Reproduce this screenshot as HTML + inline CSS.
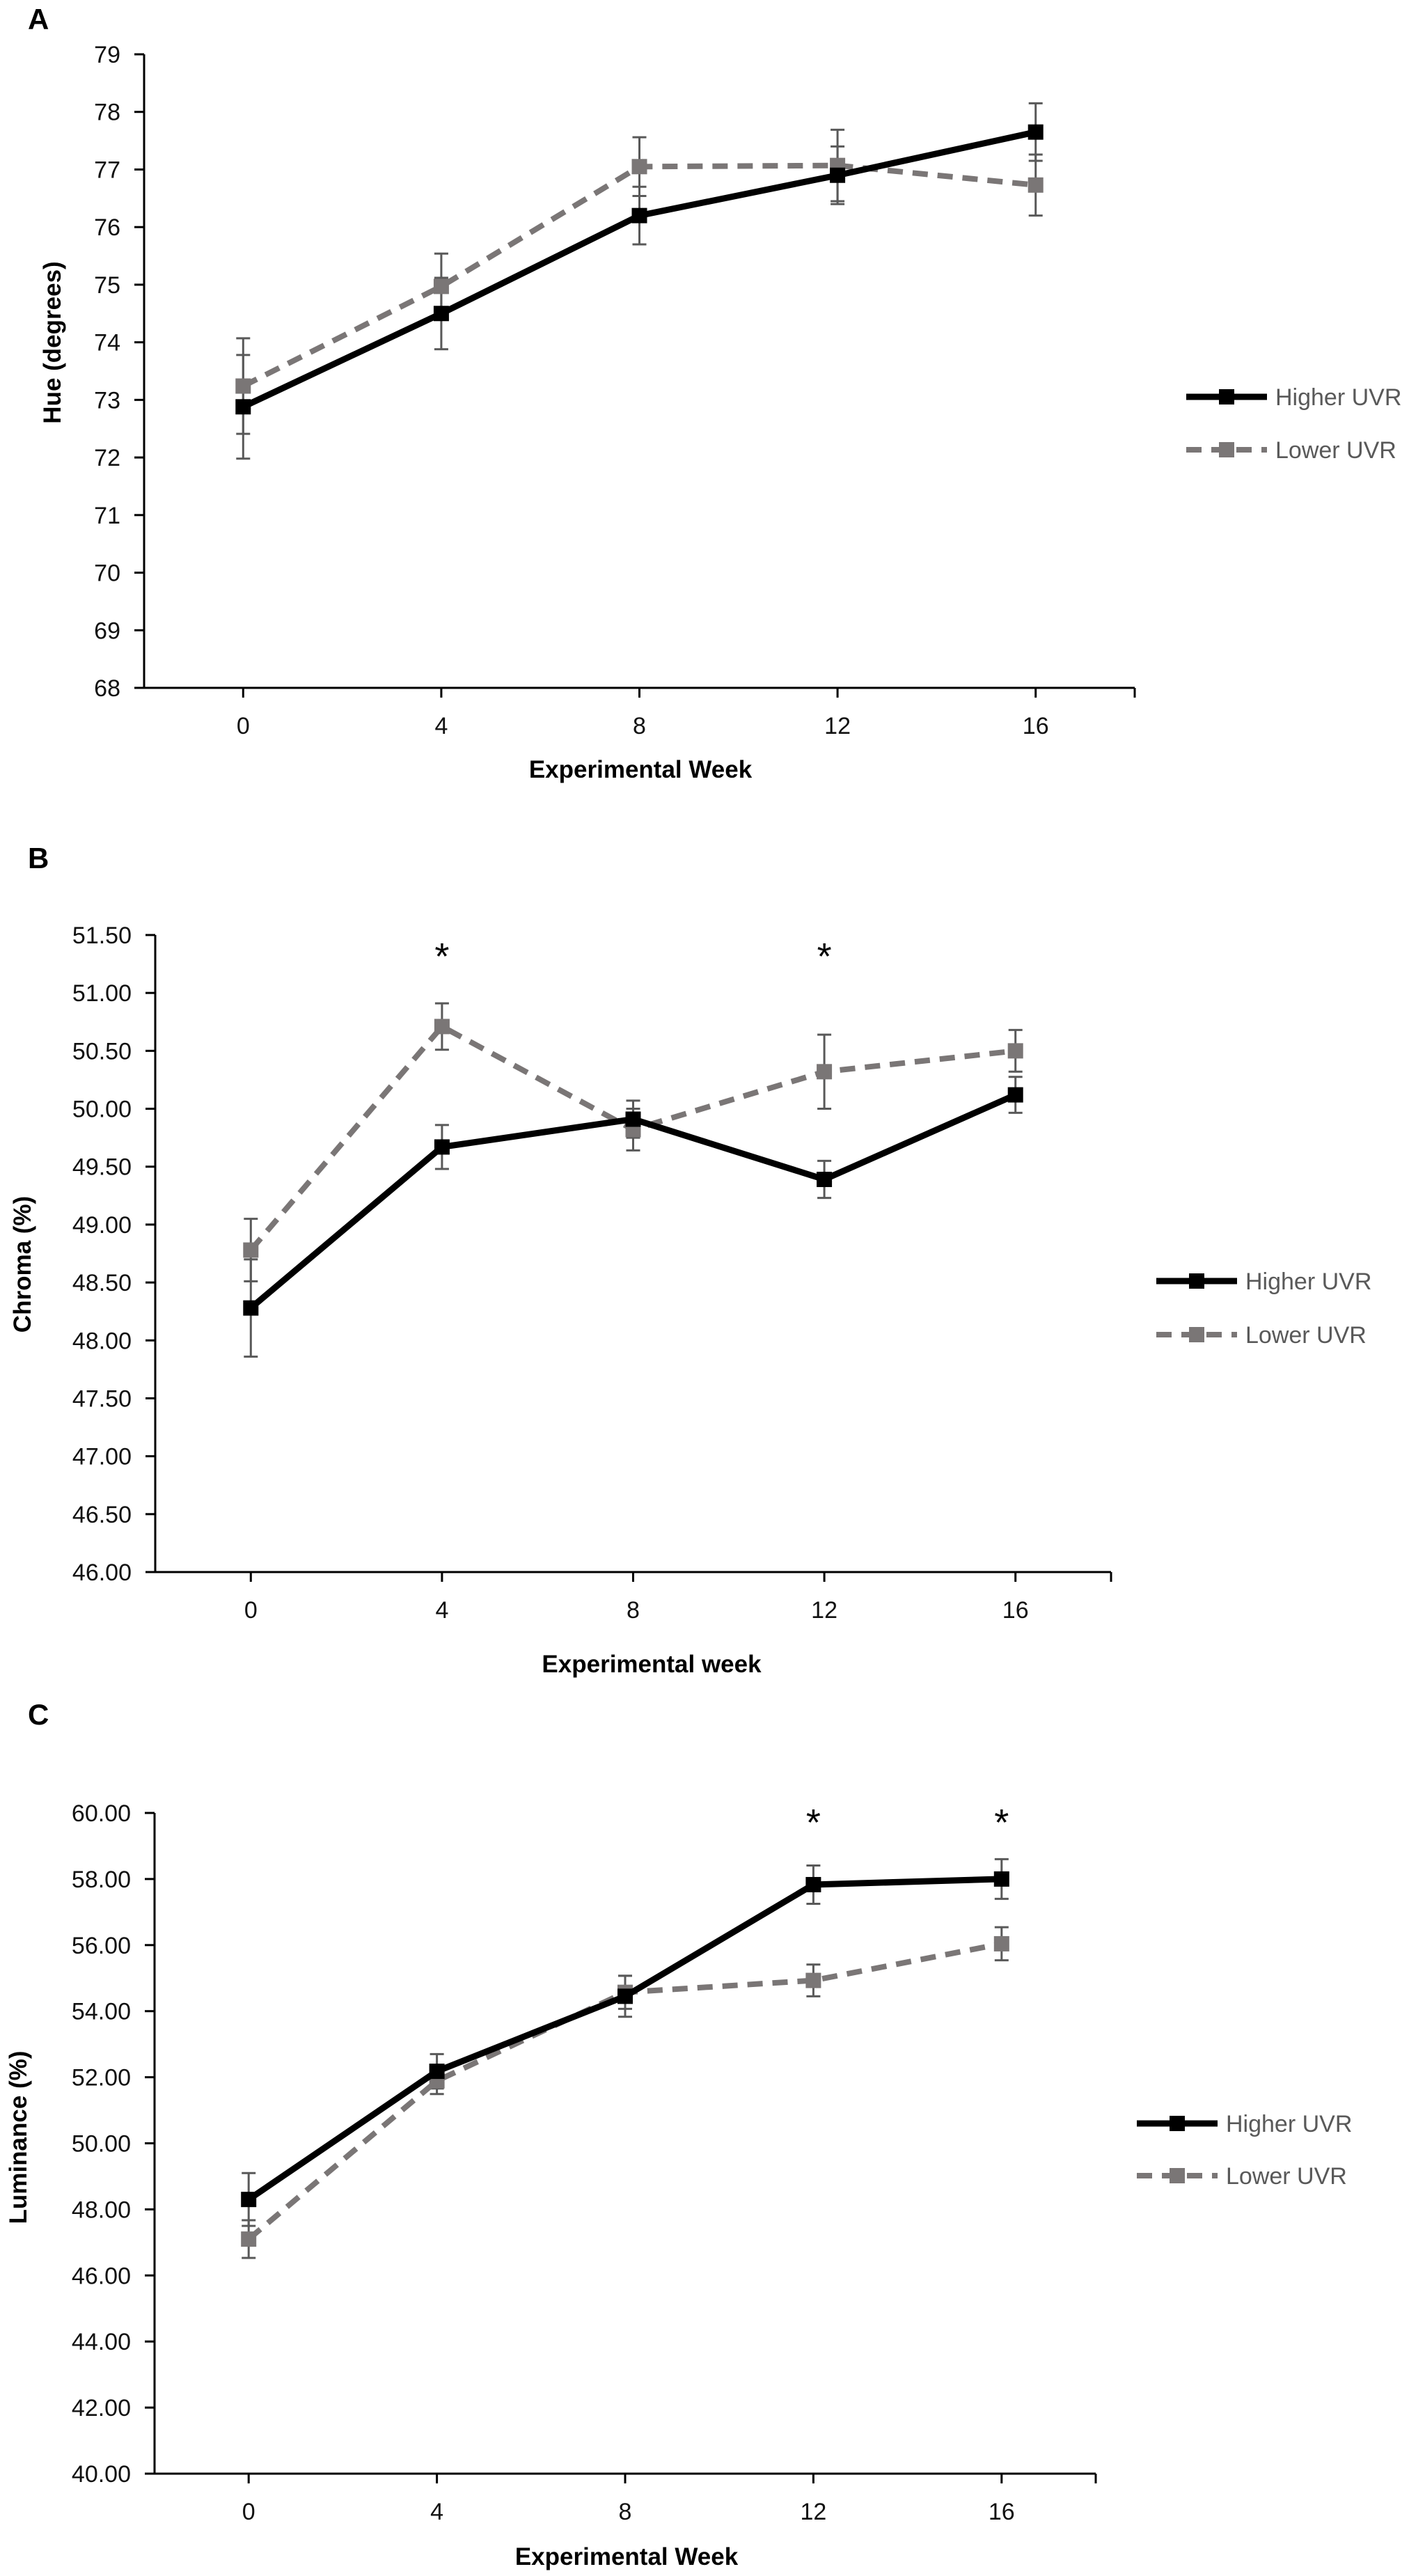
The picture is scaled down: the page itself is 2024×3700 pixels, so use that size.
<!DOCTYPE html>
<html><head><meta charset="utf-8"><style>
html,body{margin:0;padding:0;background:#fff;}
svg{display:block;font-family:"Liberation Sans",sans-serif;}
</style></head><body>
<svg id="fig" width="2024" height="3700" viewBox="0 0 2024 3700" xmlns="http://www.w3.org/2000/svg"></svg>
<script>
const weeks = [0, 4, 8, 12, 16];
const weekTickLabels = ["0", "4", "8", "12", "16"];
const hueHigher = [72.88, 74.50, 76.20, 76.90, 77.65];
const hueHigherErr = [0.90, 0.62, 0.50, 0.50, 0.50];
const hueLower = [73.24, 74.97, 77.05, 77.07, 76.73];
const hueLowerErr = [0.83, 0.57, 0.51, 0.62, 0.53];
const hueTicks = [68, 69, 70, 71, 72, 73, 74, 75, 76, 77, 78, 79];
const chromaHigher = [48.28, 49.67, 49.91, 49.39, 50.12];
const chromaHigherErr = [0.42, 0.19, 0.16, 0.16, 0.155];
const chromaLower = [48.78, 50.71, 49.82, 50.32, 50.50];
const chromaLowerErr = [0.27, 0.20, 0.18, 0.32, 0.18];
const chromaTicks = [46, 46.5, 47, 47.5, 48, 48.5, 49, 49.5, 50, 50.5, 51, 51.5];
const chromaStars = [4, 12];
const lumHigher = [48.30, 52.18, 54.45, 57.83, 58.00];
const lumHigherErr = [0.80, 0.52, 0.62, 0.58, 0.60];
const lumLower = [47.10, 51.89, 54.57, 54.93, 56.04];
const lumLowerErr = [0.57, 0.40, 0.50, 0.48, 0.50];
const lumTicks = [40, 42, 44, 46, 48, 50, 52, 54, 56, 58, 60];
const lumStars = [12, 16];
const hueStars = [];

const NS = "http://www.w3.org/2000/svg";
const svg = document.getElementById('fig');
function mk(tag, attrs, parent, text){
  const e = document.createElementNS(NS, tag);
  for (const k in attrs) e.setAttribute(k, attrs[k]);
  if (text !== undefined) e.textContent = text;
  (parent || svg).appendChild(e);
  return e;
}

function panel(cfg){
  const g = mk('g', {});
  
  
  const xs = w => cfg.x0 + (w + 2) / 20 * (cfg.x1 - cfg.x0);
  const ys = v => cfg.yb + (v - cfg.vmin) / (cfg.vmax - cfg.vmin) * (cfg.yt - cfg.yb);
  const L = mk('text', {x: cfg.lx, y: cfg.ly, 'font-size': 42, 'font-weight': 'bold', fill: '#000'}, g, cfg.letter);
  
  
  const ya = mk('line', {x1: cfg.x0, y1: ys(cfg.vmin), x2: cfg.x0, y2: ys(cfg.vmax), stroke: '#000', 'stroke-width': 3}, g);
  
  
  const xa = mk('line', {x1: cfg.x0 - 14, y1: cfg.yb, x2: cfg.x1, y2: cfg.yb, stroke: '#000', 'stroke-width': 3}, g);
  
  
  cfg.ticks.forEach(t => {
    const y = ys(t);
    mk('line', {x1: cfg.x0 - 14, y1: y, x2: cfg.x0, y2: y, stroke: '#000', 'stroke-width': 3}, g);
    const tx = mk('text', {x: cfg.x0 - 34, y: y + 12, 'text-anchor': 'end', 'font-size': 34, fill: '#111'}, g, cfg.fmt(t));
    
    
  });
  weeks.forEach((w, i) => {
    const x = xs(w);
    mk('line', {x1: x, y1: cfg.yb, x2: x, y2: cfg.yb + 14, stroke: '#000', 'stroke-width': 3}, g);
    const tx = mk('text', {x: x, y: cfg.yb + 66, 'text-anchor': 'middle', 'font-size': 34, fill: '#111'}, g, weekTickLabels[i]);
    
    
  });
  mk('line', {x1: cfg.x1, y1: cfg.yb, x2: cfg.x1, y2: cfg.yb + 14, stroke: '#000', 'stroke-width': 3}, g);
  const xt = mk('text', {x: cfg.xtx, y: cfg.xty, 'text-anchor': 'middle', 'font-size': 35, 'font-weight': 'bold', fill: '#000'}, g, cfg.xtitle);
  
  
  const yt = mk('text', {x: 0, y: 0, transform: `translate(${cfg.ytx},${cfg.yty}) rotate(-90)`, 'text-anchor': 'middle', 'font-size': 35, 'font-weight': 'bold', fill: '#000'}, g, cfg.ytitle);
  
  
  function errs(vals, e, name){
    vals.forEach((v, i) => {
      const x = xs(weeks[i]);
      const eg = mk('g', {stroke: '#595959', 'stroke-width': 3}, g);
      
      
      mk('line', {x1: x, y1: ys(v - e[i]), x2: x, y2: ys(v + e[i])}, eg);
      mk('line', {x1: x - 10, y1: ys(v - e[i]), x2: x + 10, y2: ys(v - e[i])}, eg);
      mk('line', {x1: x - 10, y1: ys(v + e[i]), x2: x + 10, y2: ys(v + e[i])}, eg);
    });
  }
  errs(cfg.high, cfg.highErr, 'error-bar-higher');
  errs(cfg.low, cfg.lowErr, 'error-bar-lower');
  function series(vals, color, dash, width, name){
    const pts = vals.map((v, i) => xs(weeks[i]) + ',' + ys(v)).join(' ');
    const pl = mk('polyline', {points: pts, fill: 'none', stroke: color, 'stroke-width': width, 'stroke-dasharray': dash}, g);
    
    
    vals.forEach((v, i) => {
      const r = mk('rect', {x: xs(weeks[i]) - 11, y: ys(v) - 11, width: 22, height: 22, fill: color}, g);
      
      
    });
  }
  series(cfg.low, '#7a7676', '22 14', 8, 'lower-uvr');
  series(cfg.high, '#000', 'none', 9, 'higher-uvr');
  cfg.stars.forEach(w => {
    const s = mk('text', {x: xs(w), y: cfg.stary, 'text-anchor': 'middle', 'font-size': 54, fill: '#000'}, g, '*');
    
    
  });
  const lg = mk('g', {}, g);
  
  
  const lx = cfg.legx, w = 116;
  mk('line', {x1: lx, y1: cfg.legy1, x2: lx + w, y2: cfg.legy1, stroke: '#000', 'stroke-width': 9}, lg);
  mk('rect', {x: lx + w/2 - 11, y: cfg.legy1 - 11, width: 22, height: 22, fill: '#000'}, lg);
  const t1 = mk('text', {x: lx + w + 12, y: cfg.legy1 + 12, 'font-size': 34, fill: '#595959'}, lg, 'Higher UVR');
  
  
  mk('line', {x1: lx, y1: cfg.legy2, x2: lx + w, y2: cfg.legy2, stroke: '#7a7676', 'stroke-width': 8, 'stroke-dasharray': '22 14'}, lg);
  mk('rect', {x: lx + w/2 - 11, y: cfg.legy2 - 11, width: 22, height: 22, fill: '#7a7676'}, lg);
  const t2 = mk('text', {x: lx + w + 12, y: cfg.legy2 + 12, 'font-size': 34, fill: '#595959'}, lg, 'Lower UVR');
  
  
}

panel({name: 'panel-a-hue', letter: 'A', lx: 40, ly: 42, x0: 207, x1: 1630, yb: 988, yt: 78, vmin: 68, vmax: 79,
  ticks: hueTicks, fmt: t => String(t), high: hueHigher, highErr: hueHigherErr, low: hueLower, lowErr: hueLowerErr,
  stars: hueStars, stary: 0, xtitle: 'Experimental Week', xtx: 920, xty: 1117, ytitle: 'Hue (degrees)', ytx: 87, yty: 492,
  legx: 1704, legy1: 570, legy2: 646});
panel({name: 'panel-b-chroma', letter: 'B', lx: 40, ly: 1247, x0: 223, x1: 1596, yb: 2258, yt: 1343, vmin: 46, vmax: 51.5,
  ticks: chromaTicks, fmt: t => t.toFixed(2), high: chromaHigher, highErr: chromaHigherErr, low: chromaLower, lowErr: chromaLowerErr,
  stars: chromaStars, stary: 1392, xtitle: 'Experimental week', xtx: 936, xty: 2402, ytitle: 'Chroma (%)', ytx: 44, yty: 1816,
  legx: 1661, legy1: 1840, legy2: 1917});
panel({name: 'panel-c-luminance', letter: 'C', lx: 40, ly: 2477, x0: 222, x1: 1574, yb: 3553, yt: 2604, vmin: 40, vmax: 60,
  ticks: lumTicks, fmt: t => t.toFixed(2), high: lumHigher, highErr: lumHigherErr, low: lumLower, lowErr: lumLowerErr,
  stars: lumStars, stary: 2636, xtitle: 'Experimental Week', xtx: 900, xty: 3684, ytitle: 'Luminance (%)', ytx: 38, yty: 3070,
  legx: 1633, legy1: 3050, legy2: 3125});
</script>
</body></html>
